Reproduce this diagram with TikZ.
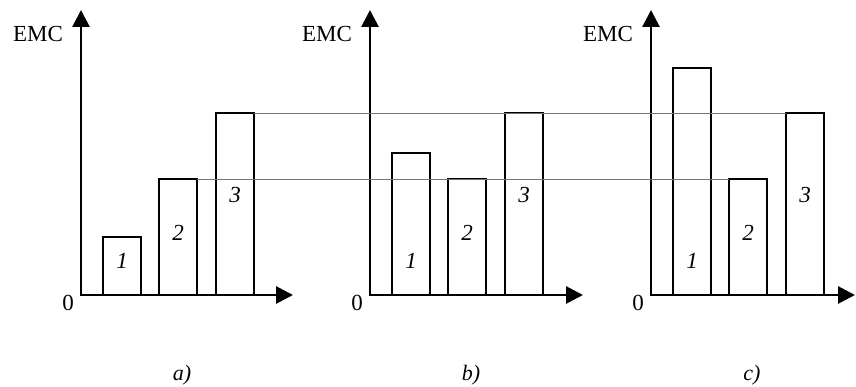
\documentclass[tikz,border=0pt]{standalone}
\usepackage{fontspec}
\setmainfont{Liberation Serif}
\usetikzlibrary{arrows.meta}
\begin{document}
\begin{tikzpicture}[x=1pt,y=-1pt,
  bar/.style={draw, line width=2.8pt, minimum width=38pt, inner sep=0pt, outer sep=0pt, anchor=south west},
  axis/.style={line width=2.8pt, {Triangle[length=17pt,width=17pt]}-{Triangle[length=17pt,width=17pt]}},
  level/.style={draw=black!55, line width=0.9pt},
  lbl/.style={font=\fontsize{23}{23}\selectfont, inner sep=0pt},
  num/.style={font=\fontsize{23}{23}\selectfont\itshape, inner sep=0pt},
  captext/.style={font=\fontsize{22}{22}\selectfont\itshape, inner sep=0pt}]
\useasboundingbox (0,0) rectangle (856,387);
\foreach \p/\ax/\ha/\xe in {a/81/58/293, b/370/142/583, c/651/227/855}{
  \coordinate (\p o) at (\ax,295);
  \coordinate (\p y) at (\ax,10);
  \coordinate (\p x) at (\xe,295);
  \draw[axis] (\p y) -- (\p o) -- (\p x);
  \node[bar, minimum height=\ha pt] (\p1) at (\ax+22,295) {};
  \node[bar, minimum height=116pt] (\p2) at (\ax+78,295) {};
  \node[bar, minimum height=182pt] (\p3) at (\ax+135,295) {};
  \node[num] (\p n1) at (\ax+41,261) {1};
  \node[num] (\p n2) at (\ax+97,233) {2};
  \node[num] (\p n3) at (\ax+154,195) {3};
  \node[lbl] (\p zero) at (\ax-13,303) {0};
  \node[lbl] (\p emc) at (\ax-43,34) {EMC};
  \node[captext] (\p cap) at (\ax+101,375) {\p)};
}
\draw[level] (a3.north east) -- (c3.north west);
\draw[level] (a2.north east) -- (c2.north west);
\end{tikzpicture}
\end{document}
